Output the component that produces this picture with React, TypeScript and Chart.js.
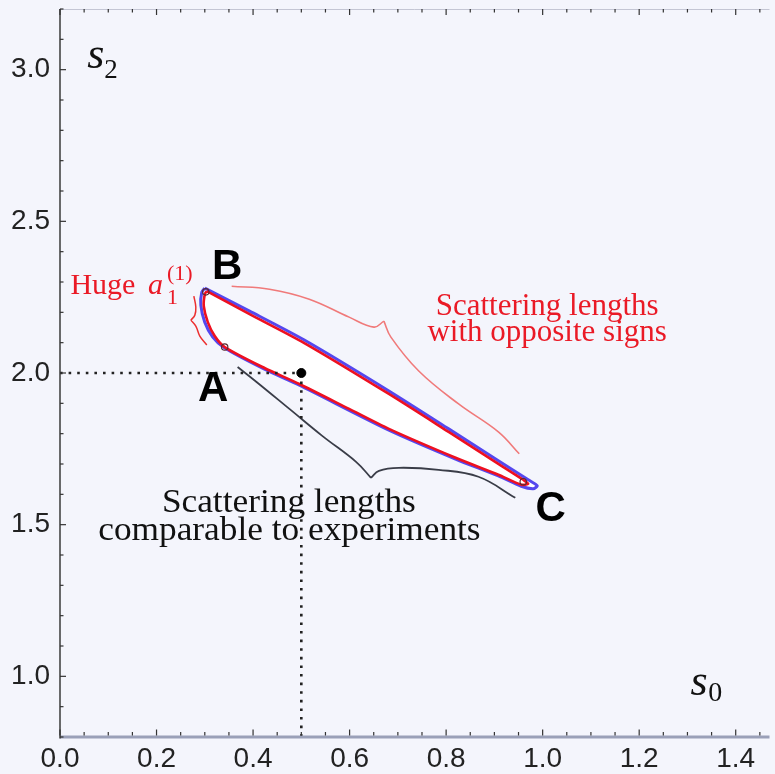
import { useEffect, useRef } from 'react';
import { Chart, registerables } from 'chart.js';

Chart.register(...registerables);

// ---- axis ranges & tick labels ----
const X_RANGE = [0, 1.47];
const Y_RANGE = [0.8, 3.2];
const xTickValues = [0.0, 0.2, 0.4, 0.6, 0.8, 1.0, 1.2, 1.4];
const yTickValues = [1.0, 1.5, 2.0, 2.5, 3.0];
const xMinorStep = 0.05;
const yMinorStep = 0.1;

// ---- allowed region contours (s0, s2) ----
const redContour = [
  { x: 0.3041, y: 2.2697 },
  { x: 0.3928, y: 2.1941 },
  { x: 0.5062, y: 2.0987 },
  { x: 0.6814, y: 1.9309 },
  { x: 0.8052, y: 1.8059 },
  { x: 0.9082, y: 1.7007 },
  { x: 0.9598, y: 1.648 },
  { x: 0.9701, y: 1.6349 },
  { x: 0.9557, y: 1.6316 },
  { x: 0.9082, y: 1.6645 },
  { x: 0.8196, y: 1.7204 },
  { x: 0.6814, y: 1.8158 },
  { x: 0.599, y: 1.8816 },
  { x: 0.4959, y: 1.9638 },
  { x: 0.4237, y: 2.0164 },
  { x: 0.3412, y: 2.0855 },
  { x: 0.3206, y: 2.1217 },
  { x: 0.3062, y: 2.1678 },
  { x: 0.2979, y: 2.2204 },
  { x: 0.3, y: 2.2599 },
  { x: 0.3041, y: 2.2697 },
];

const blueContour = [
  { x: 0.3, y: 2.2796 },
  { x: 0.3928, y: 2.2039 },
  { x: 0.5062, y: 2.1086 },
  { x: 0.6814, y: 1.9408 },
  { x: 0.8052, y: 1.8158 },
  { x: 0.9082, y: 1.7105 },
  { x: 0.9701, y: 1.648 },
  { x: 0.9887, y: 1.6283 },
  { x: 0.9804, y: 1.6184 },
  { x: 0.9557, y: 1.6266 },
  { x: 0.9082, y: 1.6605 },
  { x: 0.8196, y: 1.7164 },
  { x: 0.6814, y: 1.8118 },
  { x: 0.4959, y: 1.9598 },
  { x: 0.4237, y: 2.0124 },
  { x: 0.3412, y: 2.0822 },
  { x: 0.3165, y: 2.1184 },
  { x: 0.2999, y: 2.1678 },
  { x: 0.2918, y: 2.2237 },
  { x: 0.2938, y: 2.2664 },
  { x: 0.3, y: 2.2796 },
];

// corner points A, B, C
const cornerPoints = [
  { x: 0.3412, y: 2.0855 },
  { x: 0.3021, y: 2.2675 },
  { x: 0.9598, y: 1.6416 },
];

// reference point and its guide lines
const refPoint = [{ x: 0.5, y: 2.0 }];
const hGuide = [{ x: 0.0, y: 2.0 }, { x: 0.5, y: 2.0 }];
const vGuide = [{ x: 0.5, y: 2.0 }, { x: 0.5, y: 0.8 }];

// braces
const braceOppositeA = [
  { x: 0.3557, y: 2.2862 },
  { x: 0.434, y: 2.2763 },
  { x: 0.5165, y: 2.2434 },
  { x: 0.599, y: 2.1842 },
  { x: 0.6505, y: 2.1513 },
  { x: 0.6711, y: 2.1711 },
];
const braceOppositeB = [
  { x: 0.6711, y: 2.1711 },
  { x: 0.6856, y: 2.1184 },
  { x: 0.7433, y: 2.0066 },
  { x: 0.8258, y: 1.898 },
  { x: 0.9082, y: 1.8059 },
  { x: 0.9515, y: 1.7336 },
];
const braceExpA = [
  { x: 0.368, y: 2.0197 },
  { x: 0.4072, y: 1.9704 },
  { x: 0.4753, y: 1.8816 },
  { x: 0.5433, y: 1.7928 },
  { x: 0.6134, y: 1.7072 },
  { x: 0.6443, y: 1.6546 },
];
const braceExpB = [
  { x: 0.6443, y: 1.6546 },
  { x: 0.6608, y: 1.6776 },
  { x: 0.7021, y: 1.6875 },
  { x: 0.7845, y: 1.6809 },
  { x: 0.867, y: 1.6579 },
  { x: 0.9433, y: 1.5888 },
];
const braceHugeA = [
  { x: 0.2773, y: 2.2533 },
  { x: 0.2814, y: 2.2171 },
  { x: 0.2794, y: 2.1908 },
  { x: 0.2711, y: 2.1743 },
];
const braceHugeB = [
  { x: 0.2711, y: 2.1743 },
  { x: 0.2814, y: 2.1546 },
  { x: 0.2897, y: 2.1217 },
  { x: 0.3041, y: 2.0921 },
];

// ---- text annotations (data coords, baseline) ----
const SERIF = '"Liberation Serif", "DejaVu Serif", serif';
const SANS = '"Liberation Sans", Arial, sans-serif';
const RED = '#ea1a26';
const annotations = [
  { text: 'B', x: 0.3464, y: 2.3092, font: `bold 42px ${SANS}`, color: '#000', align: 'center' },
  { text: 'A', x: 0.3175, y: 1.9079, font: `bold 42px ${SANS}`, color: '#000', align: 'center' },
  { text: 'C', x: 1.0165, y: 1.5132, font: `bold 42px ${SANS}`, color: '#000', align: 'center' },
  { text: 'Scattering lengths', x: 1.0093, y: 2.1908, font: `31px ${SERIF}`, color: RED, align: 'center' },
  { text: 'with opposite signs', x: 1.0093, y: 2.1053, font: `31px ${SERIF}`, color: RED, align: 'center' },
  { text: 'Scattering lengths', x: 0.4742, y: 1.5428, font: `33px ${SERIF}`, color: '#111', align: 'center', sx: 1.07 },
  { text: 'comparable to experiments', x: 0.4753, y: 1.4507, font: `33px ${SERIF}`, color: '#111', align: 'center', sx: 1.07 },
  { text: 'Huge', x: 0.0216, y: 2.2599, font: `30px ${SERIF}`, color: RED, align: 'left' },
  { text: 'a', x: 0.1825, y: 2.2599, font: `italic 30px ${SERIF}`, color: RED, align: 'left' },
  { text: '1', x: 0.2216, y: 2.227, font: `22px ${SERIF}`, color: RED, align: 'left' },
  { text: '(1)', x: 0.2216, y: 2.3059, font: `22px ${SERIF}`, color: RED, align: 'left' },
  { text: 's', x: 0.0567, y: 3.0066, font: `italic 44px ${SERIF}`, color: '#111', align: 'left' },
  { text: '2', x: 0.0918, y: 2.9737, font: `27px ${SERIF}`, color: '#111', align: 'left' },
  { text: 's', x: 1.3062, y: 0.9375, font: `italic 44px ${SERIF}`, color: '#111', align: 'left' },
  { text: '0', x: 1.3433, y: 0.9178, font: `28px ${SERIF}`, color: '#111', align: 'left' },
];

const BG = '#f4f5fc';

const framePlugin = {
  id: 'frame',
  beforeDraw(chart: any) {
    const { ctx, width, height } = chart;
    ctx.save();
    ctx.fillStyle = BG;
    ctx.fillRect(0, 0, width, height);
    ctx.restore();
  },
  afterDraw(chart: any) {
    const { ctx, chartArea } = chart;
    const xs = chart.scales.x;
    const ys = chart.scales.y;
    const { left, right, top, bottom } = chartArea;
    ctx.save();
    // top border
    ctx.strokeStyle = '#c4c6d4';
    ctx.lineWidth = 1;
    ctx.beginPath();
    ctx.moveTo(left, top + 0.5);
    ctx.lineTo(right, top + 0.5);
    ctx.stroke();
    // bottom axis line
    ctx.strokeStyle = '#9aa0b8';
    ctx.lineWidth = 3;
    ctx.beginPath();
    ctx.moveTo(left, bottom);
    ctx.lineTo(right, bottom);
    ctx.stroke();
    // left axis line
    ctx.strokeStyle = '#3a3a3a';
    ctx.lineWidth = 1.5;
    ctx.beginPath();
    ctx.moveTo(left, top);
    ctx.lineTo(left, bottom + 1.5);
    ctx.stroke();
    // ticks
    ctx.strokeStyle = '#333';
    ctx.lineWidth = 1.2;
    const isMajor = (v: number, step: number) => Math.abs(v / step - Math.round(v / step)) < 1e-6;
    for (let i = 0; i * xMinorStep <= X_RANGE[1] + 1e-9; i++) {
      const v = i * xMinorStep;
      const p = xs.getPixelForValue(v);
      const len = isMajor(v, 0.2) ? 6 : 3.5;
      ctx.beginPath();
      ctx.moveTo(p, bottom - 1.5);
      ctx.lineTo(p, bottom - 1.5 - len);
      ctx.moveTo(p, top);
      ctx.lineTo(p, top + len);
      ctx.stroke();
    }
    for (let i = Math.ceil(Y_RANGE[0] / yMinorStep); i * yMinorStep <= Y_RANGE[1] + 1e-9; i++) {
      const v = i * yMinorStep;
      const p = ys.getPixelForValue(v);
      const len = isMajor(v, 0.5) ? 6 : 3.5;
      ctx.beginPath();
      ctx.moveTo(left, p);
      ctx.lineTo(left + len, p);
      ctx.stroke();
    }
    ctx.restore();
  },
  afterDatasetsDraw(chart: any) {
    const { ctx } = chart;
    const xs = chart.scales.x;
    const ys = chart.scales.y;
    for (const t of annotations) {
      const px = xs.getPixelForValue(t.x);
      const py = ys.getPixelForValue(t.y);
      ctx.save();
      ctx.font = t.font;
      ctx.fillStyle = t.color;
      ctx.textAlign = t.align as CanvasTextAlign;
      ctx.textBaseline = 'alphabetic';
      ctx.translate(px, py);
      ctx.scale((t as any).sx ?? 1, 1);
      ctx.fillText(t.text, 0, 0);
      ctx.restore();
    }
  },
};

const lineSet = (data: any[], color: string, width: number, extra: any = {}) => ({
  data,
  showLine: true,
  borderColor: color,
  borderWidth: width,
  pointRadius: 0,
  fill: false,
  tension: 0.4,
  ...extra,
});

const zeroPad = (s: any) => {
  s.paddingTop = 0;
  s.paddingBottom = 0;
  s.paddingLeft = 0;
  s.paddingRight = 0;
};

export default function App() {
  const ref = useRef<HTMLCanvasElement | null>(null);
  useEffect(() => {
    if (!ref.current) return;
    const chart = new Chart(ref.current, {
      type: 'scatter',
      data: {
        datasets: [
          lineSet(hGuide, '#222', 2.6, { tension: 0, borderDash: [2.6, 6], order: 1 }),
          lineSet(vGuide, '#222', 2.6, { tension: 0, borderDash: [2.6, 6], order: 1 }),
          {
            data: refPoint,
            pointRadius: 4.5,
            pointBackgroundColor: '#000',
            pointBorderColor: '#000',
            order: 0,
          },
          {
            data: cornerPoints,
            pointRadius: 3.2,
            pointBackgroundColor: 'rgba(0,0,0,0)',
            pointBorderColor: '#5a2a30',
            pointBorderWidth: 1.2,
            order: 2,
          },
          lineSet(redContour, '#ee1020', 2.6, { tension: 0.25, order: 3 }),
          lineSet(blueContour, '#5548ee', 3, {
            tension: 0.25,
            fill: 'shape',
            backgroundColor: '#ffffff',
            order: 4,
          }),
          lineSet(braceOppositeA, '#f07a7a', 1.6, { order: 5 }),
          lineSet(braceOppositeB, '#f07a7a', 1.6, { order: 5 }),
          lineSet(braceExpA, '#3a3d48', 1.8, { order: 5 }),
          lineSet(braceExpB, '#3a3d48', 1.8, { order: 5 }),
          lineSet(braceHugeA, '#ec3030', 1.5, { order: 5 }),
          lineSet(braceHugeB, '#ec3030', 1.5, { order: 5 }),
        ],
      },
      options: {
        animation: false,
        responsive: false,
        devicePixelRatio: 1,
        events: [],
        layout: { padding: { top: 9, right: 0, left: 0, bottom: 0 } },
        plugins: { legend: { display: false }, tooltip: { enabled: false }, title: { display: false } },
        scales: {
          x: {
            type: 'linear',
            min: X_RANGE[0],
            max: X_RANGE[1],
            grid: { display: false, drawTicks: false },
            border: { display: false },
            afterBuildTicks: (s: any) => {
              s.ticks = xTickValues.map((v) => ({ value: v }));
            },
            afterFit: (s: any) => {
              s.height = 37;
              zeroPad(s);
            },
            ticks: {
              autoSkip: false,
              maxRotation: 0,
              padding: 5,
              color: '#222',
              font: { family: '"Liberation Sans", Arial, sans-serif', size: 28 },
              callback: (v: any) => Number(v).toFixed(1),
            },
          },
          y: {
            type: 'linear',
            min: Y_RANGE[0],
            max: Y_RANGE[1],
            grid: { display: false, drawTicks: false },
            border: { display: false },
            afterBuildTicks: (s: any) => {
              s.ticks = yTickValues.map((v) => ({ value: v }));
            },
            afterFit: (s: any) => {
              s.width = 60;
              zeroPad(s);
            },
            ticks: {
              autoSkip: false,
              padding: 10,
              color: '#222',
              font: { family: '"Liberation Sans", Arial, sans-serif', size: 28 },
              callback: (v: any) => Number(v).toFixed(1),
            },
          },
        },
      },
      plugins: [framePlugin],
    });
    return () => chart.destroy();
  }, []);
  return (
    <div style={{ position: 'absolute', left: 0, top: 0, width: 775, height: 774, background: BG }}>
      <canvas ref={ref} width={775} height={774} style={{ display: 'block' }} />
    </div>
  );
}
